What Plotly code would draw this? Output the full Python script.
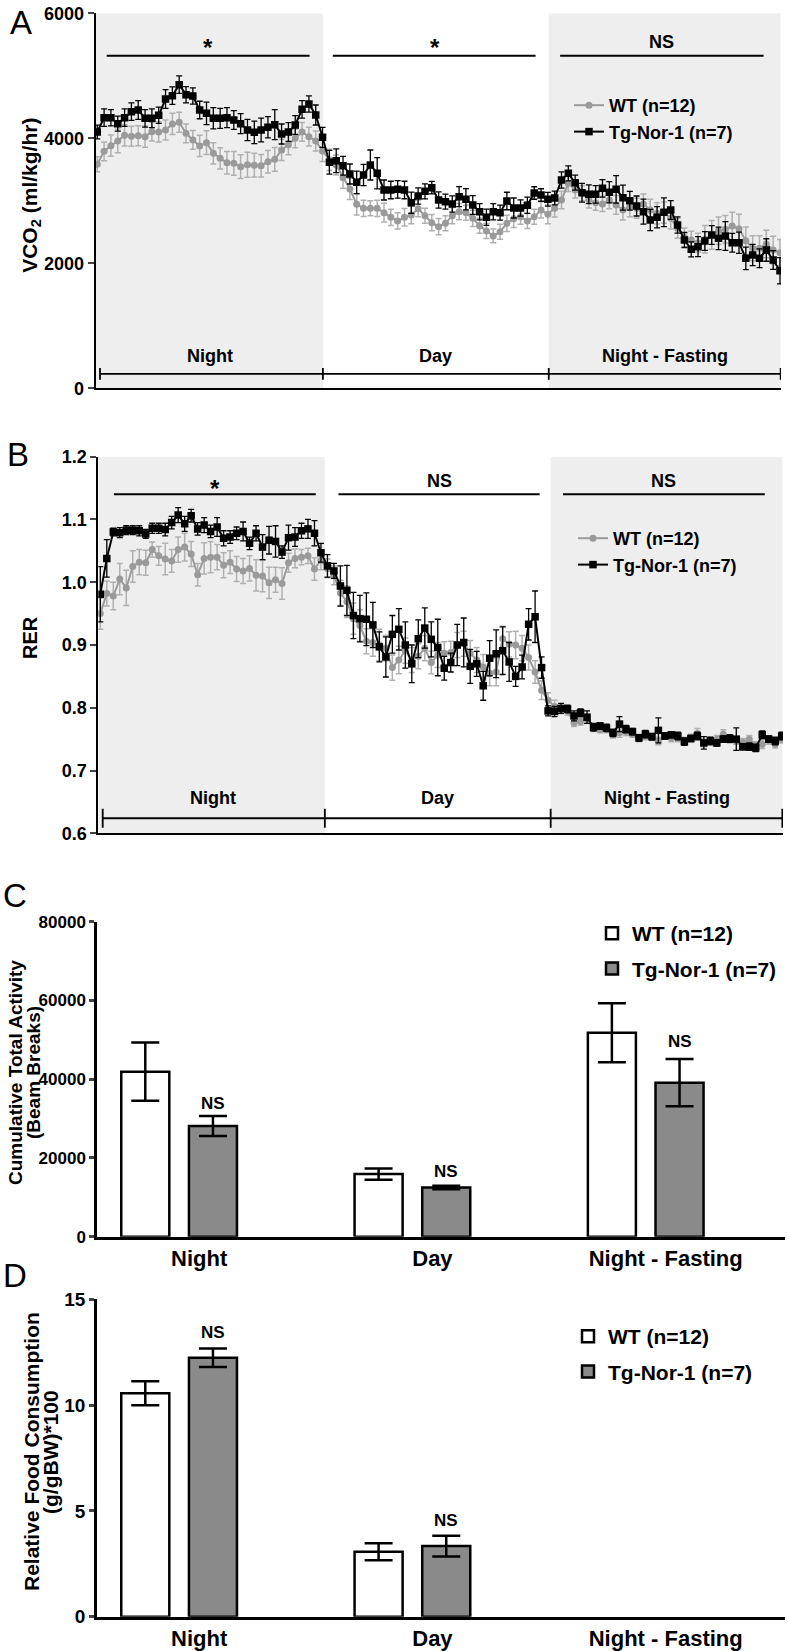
import plotly.graph_objects as go

FONT = "Liberation Sans, Arial, Helvetica, sans-serif"

# ---------------- Panel A : VCO2 (ml/kg/hr) ----------------
vco2_wt = [3584, 3792, 3882, 3957, 4048, 4032, 4040, 4026, 4106, 4100, 4133, 4229, 4256, 4080, 3973,
           3877, 3930, 3760, 3680, 3610, 3600, 3546, 3578, 3570, 3562, 3626, 3664, 3813, 3898, 4000,
           4101, 4026, 3957, 3797, 3653,
           3573, 3370, 3189, 2944, 2880, 2880, 2880, 2810, 2736, 2677, 2736, 2773, 2874, 2762, 2650,
           2586, 2640, 2762, 2826, 2810, 2720, 2602, 2517, 2437, 2506, 2640, 2714, 2746, 2677, 2746,
           2853, 2784, 2880,
           3013, 3280, 3173, 3120, 3013, 2970, 2949, 3013, 2933, 2853, 2896, 2880, 2949, 2853, 2800,
           2810, 2720, 2560, 2416, 2373, 2330, 2384, 2453, 2522, 2544, 2597, 2554, 2362, 2240, 2240,
           2309, 2213, 2170]
vco2_wt_err = [120, 150, 170, 190, 170, 160, 160, 170, 150, 160, 160, 170, 160, 150, 150, 170, 190, 170,
               170, 180, 190, 190, 200, 190, 180, 180, 190, 170, 160, 150, 150, 150, 160, 170, 170,
               160, 170, 170, 170, 130, 120, 130, 150, 130, 130, 140, 140, 130, 120, 130, 130, 120,
               130, 130, 120, 130, 120, 120, 110, 120, 130, 140, 120, 120, 120, 130, 150, 140,
               140, 130, 130, 120, 130, 120, 120, 140, 150, 160, 150, 160, 160, 170, 170, 170, 170,
               160, 150, 140, 150, 220, 230, 220, 220, 220, 230, 220, 200, 200, 220, 220, 210]
vco2_tg = [4101, 4330, 4330, 4234, 4330, 4426, 4453, 4320, 4320, 4368, 4629, 4682, 4858, 4698, 4677,
           4453, 4400, 4320, 4320, 4330, 4293, 4234, 4133, 4096, 4133, 4176, 4218, 4069, 4101, 4213,
           4464, 4549, 4373, 4016, 3616,
           3642, 3562, 3429, 3296, 3413, 3573, 3440, 3173, 3173, 3184, 3173, 2970, 3077, 3152, 3210,
           3013, 2986, 2949, 3066, 3024, 2933, 2826, 2736, 2826, 2810, 2997, 2885, 2885, 2928, 3125,
           3093, 3024, 3045,
           3333, 3440, 3290, 3130, 3104, 3104, 3200, 3136, 3184, 3050, 3002, 2917, 2826, 2693, 2736,
           2816, 2853, 2613, 2373, 2224, 2266, 2357, 2453, 2400, 2437, 2330, 2330, 2080, 2133, 2080,
           2213, 2053, 1882]
vco2_tg_err = [110, 140, 130, 120, 140, 140, 150, 140, 150, 130, 150, 140, 140, 130, 130, 140, 180, 170,
               160, 160, 150, 160, 170, 180, 190, 170, 240, 160, 150, 150, 140, 130, 160, 160, 190,
               190, 150, 160, 180, 170, 240, 250, 160, 140, 140, 140, 170, 130, 120, 100, 130, 120,
               130, 160, 170, 150, 130, 130, 130, 120, 140, 160, 130, 130, 100, 100, 110, 110,
               130, 120, 120, 150, 150, 140, 140, 170, 220, 200, 150, 160, 200, 170, 170, 230, 150,
               130, 120, 120, 160, 150, 150, 180, 230, 150, 170, 180, 170, 150, 180, 150, 210]

# ---------------- Panel B : RER ----------------
rer_wt = [0.950, 0.982, 0.978, 1.005, 0.991, 1.025, 1.032, 1.031, 1.052, 1.042, 1.037, 1.034, 1.052,
          1.056, 1.045, 1.012, 1.038, 1.040, 1.040, 1.027, 1.032, 1.021, 1.018, 1.022, 1.011, 1.010,
          0.999, 1.004, 0.998, 1.031, 1.038, 1.040, 1.042, 1.021, 1.035, 1.022,
          1.011, 0.983, 0.969, 0.942, 0.931, 0.906, 0.904, 0.900, 0.895, 0.864, 0.876, 0.891, 0.876,
          0.882, 0.895, 0.872, 0.884, 0.887, 0.888, 0.900, 0.902, 0.887, 0.876, 0.865, 0.855, 0.857,
          0.910, 0.901, 0.900, 0.895, 0.880, 0.857, 0.828, 0.812, 0.802,
          0.797, 0.795, 0.776, 0.778, 0.782, 0.768, 0.765, 0.766, 0.758, 0.760, 0.762, 0.758, 0.752,
          0.755, 0.753, 0.747, 0.755, 0.752, 0.752, 0.748, 0.752, 0.759, 0.744, 0.748, 0.750, 0.758,
          0.750, 0.747, 0.745, 0.750, 0.740, 0.742, 0.748, 0.742, 0.750]
rer_wt_err = [0.025, 0.020, 0.022, 0.025, 0.028, 0.025, 0.020, 0.020, 0.012, 0.015, 0.025, 0.018,
              0.020, 0.022, 0.020, 0.018, 0.025, 0.025, 0.020, 0.020, 0.018, 0.020, 0.020, 0.020,
              0.025, 0.025, 0.025, 0.020, 0.025, 0.015, 0.015, 0.012, 0.012, 0.018, 0.015, 0.015,
              0.015, 0.020, 0.025, 0.025, 0.025, 0.020, 0.022, 0.025, 0.020, 0.020, 0.022, 0.020,
              0.020, 0.020, 0.020, 0.018, 0.020, 0.018, 0.018, 0.020, 0.020, 0.020, 0.020, 0.020,
              0.020, 0.022, 0.020, 0.020, 0.022, 0.020, 0.020, 0.018, 0.015, 0.012, 0.010,
              0.006, 0.007, 0.006, 0.006, 0.007, 0.006, 0.005, 0.006, 0.006, 0.007, 0.006, 0.005,
              0.006, 0.006, 0.005, 0.006, 0.005, 0.006, 0.006, 0.005, 0.006, 0.008, 0.006, 0.005,
              0.006, 0.007, 0.006, 0.005, 0.006, 0.006, 0.006, 0.007, 0.006, 0.006, 0.006]
rer_tg = [0.981, 1.038, 1.080, 1.079, 1.083, 1.083, 1.082, 1.077, 1.086, 1.086, 1.084, 1.095, 1.107,
          1.093, 1.106, 1.085, 1.091, 1.081, 1.088, 1.070, 1.072, 1.078, 1.081, 1.062, 1.078, 1.056,
          1.067, 1.065, 1.048, 1.071, 1.072, 1.082, 1.085, 1.078, 1.047, 1.026,
          1.018, 0.994, 0.987, 0.947, 0.942, 0.941, 0.932, 0.897, 0.881, 0.917, 0.925, 0.900, 0.870,
          0.910, 0.927, 0.909, 0.896, 0.863, 0.872, 0.900, 0.904, 0.866, 0.870, 0.835, 0.879, 0.886,
          0.891, 0.873, 0.850, 0.865, 0.933, 0.945, 0.864, 0.795, 0.794,
          0.799, 0.798, 0.787, 0.792, 0.785, 0.769, 0.771, 0.768, 0.760, 0.774, 0.766, 0.762, 0.752,
          0.758, 0.754, 0.764, 0.755, 0.757, 0.755, 0.746, 0.751, 0.755, 0.744, 0.747, 0.744, 0.750,
          0.751, 0.750, 0.738, 0.738, 0.736, 0.757, 0.750, 0.747, 0.755]
rer_tg_err = [0.044, 0.030, 0.006, 0.008, 0.007, 0.007, 0.008, 0.007, 0.008, 0.008, 0.010, 0.010,
              0.012, 0.012, 0.010, 0.010, 0.012, 0.010, 0.015, 0.012, 0.010, 0.010, 0.015, 0.010,
              0.012, 0.020, 0.022, 0.025, 0.010, 0.020, 0.015, 0.012, 0.015, 0.020, 0.015, 0.018,
              0.012, 0.032, 0.040, 0.037, 0.037, 0.042, 0.036, 0.024, 0.032, 0.030, 0.033, 0.037,
              0.030, 0.030, 0.032, 0.028, 0.045, 0.019, 0.015, 0.033, 0.039, 0.027, 0.020, 0.023,
              0.028, 0.038, 0.038, 0.031, 0.016, 0.019, 0.025, 0.041, 0.017, 0.008, 0.008,
              0.008, 0.006, 0.008, 0.006, 0.010, 0.006, 0.005, 0.006, 0.006, 0.012, 0.006, 0.005,
              0.005, 0.006, 0.005, 0.020, 0.005, 0.005, 0.006, 0.006, 0.005, 0.006, 0.010, 0.006,
              0.005, 0.005, 0.006, 0.018, 0.005, 0.006, 0.006, 0.006, 0.005, 0.006, 0.006]

# ---------------- Panels C and D : bars ----------------
periods = ["Night", "Day", "Night - Fasting"]
activity_wt = [41900, 15900, 51800]
activity_wt_err = [7400, 1450, 7470]
activity_tg = [28100, 12500, 39100]
activity_tg_err = [2550, 450, 6000]

food_wt = [10.56, 3.07, None]
food_wt_err = [0.57, 0.40, 0]
food_tg = [12.24, 3.34, None]
food_tg_err = [0.44, 0.49, 0]

WT_NAME = "WT (n=12)"
TG_NAME = "Tg-Nor-1 (n=7)"
GRAY_LINE = "#9a9a9a"
GRAY_ERR = "#b0b0b0"
BAR_GRAY = "#8a8a8a"
SHADE = "#eeeeee"

W, H = 788, 1651


def px(xp):
    return xp / W


def py(yp):
    return 1 - yp / H


fig = go.Figure()

# ---- Panel A traces
idxA = list(range(len(vco2_wt)))
fig.add_trace(go.Scatter(x=idxA, y=vco2_wt, mode="lines+markers", name=WT_NAME,
                         line=dict(color=GRAY_LINE, width=2),
                         marker=dict(symbol="circle", size=7, color=GRAY_LINE),
                         error_y=dict(type="data", array=vco2_wt_err, color=GRAY_ERR, thickness=1.5, width=3),
                         xaxis="x", yaxis="y", legend="legend"))
fig.add_trace(go.Scatter(x=idxA, y=vco2_tg, mode="lines+markers", name=TG_NAME,
                         line=dict(color="black", width=2),
                         marker=dict(symbol="square", size=7.5, color="black"),
                         error_y=dict(type="data", array=vco2_tg_err, color="black", thickness=1.3, width=3),
                         xaxis="x", yaxis="y", legend="legend"))

# ---- Panel B traces
idxB = list(range(len(rer_wt)))
fig.add_trace(go.Scatter(x=idxB, y=rer_wt, mode="lines+markers", name=WT_NAME,
                         line=dict(color=GRAY_LINE, width=2),
                         marker=dict(symbol="circle", size=7, color=GRAY_LINE),
                         error_y=dict(type="data", array=rer_wt_err, color=GRAY_ERR, thickness=1.5, width=3),
                         xaxis="x2", yaxis="y2", legend="legend2"))
fig.add_trace(go.Scatter(x=idxB, y=rer_tg, mode="lines+markers", name=TG_NAME,
                         line=dict(color="black", width=2),
                         marker=dict(symbol="square", size=7.5, color="black"),
                         error_y=dict(type="data", array=rer_tg_err, color="black", thickness=1.3, width=3),
                         xaxis="x2", yaxis="y2", legend="legend2"))

# ---- Panel C bars
bar_line = dict(color="black", width=2.5)
fig.add_trace(go.Bar(x=periods, y=activity_wt, name=WT_NAME, marker=dict(color="white", line=bar_line),
                     error_y=dict(type="data", array=activity_wt_err, color="black", thickness=2.5, width=14),
                     xaxis="x3", yaxis="y3", legend="legend3", legendgroup="c1"))
fig.add_trace(go.Bar(x=periods, y=activity_tg, name=TG_NAME, marker=dict(color=BAR_GRAY, line=bar_line),
                     error_y=dict(type="data", array=activity_tg_err, color="black", thickness=2.5, width=14),
                     xaxis="x3", yaxis="y3", legend="legend3", legendgroup="c2"))

# ---- Panel D bars
fig.add_trace(go.Bar(x=periods, y=food_wt, name=WT_NAME, marker=dict(color="white", line=bar_line),
                     error_y=dict(type="data", array=food_wt_err, color="black", thickness=2.5, width=14),
                     xaxis="x4", yaxis="y4", legend="legend4", legendgroup="d1"))
fig.add_trace(go.Bar(x=periods, y=food_tg, name=TG_NAME, marker=dict(color=BAR_GRAY, line=bar_line),
                     error_y=dict(type="data", array=food_tg_err, color="black", thickness=2.5, width=14),
                     xaxis="x4", yaxis="y4", legend="legend4", legendgroup="d2"))

# ---------------- axes ----------------
tickfont = dict(family=FONT, size=18, color="black", weight="bold")
c_tickfont = dict(family=FONT, size=17, color="black", weight="bold")
d_tickfont = dict(family=FONT, size=19, color="black", weight="bold")
cat_font = dict(family=FONT, size=22, color="black", weight="bold")
axis_common = dict(showgrid=False, zeroline=False, showline=True, linecolor="black", linewidth=2)

fig.update_layout(
    width=W, height=H, margin=dict(l=0, r=0, t=0, b=0, autoexpand=False),
    paper_bgcolor="white", plot_bgcolor="rgba(0,0,0,0)",
    font=dict(family=FONT, color="black"),
    showlegend=True,
    barmode="group", bargap=0.42, bargroupgap=0.29,
    xaxis=dict(domain=[px(95.7), px(781)], range=[-0.23, 100.15], anchor="y",
               showticklabels=False, ticks="", **axis_common),
    yaxis=dict(domain=[py(388.3), py(13.3)], range=[0, 6000], anchor="x",
               tickvals=[0, 2000, 4000, 6000], ticks="outside", ticklen=6, tickwidth=2,
               tickfont=tickfont, **axis_common),
    xaxis2=dict(domain=[px(98.3), px(783)], range=[-0.31, 105.2], anchor="y2",
                showticklabels=False, ticks="", **axis_common),
    yaxis2=dict(domain=[py(833.3), py(456.7)], range=[0.6, 1.2], anchor="x2",
                tickvals=[0.6, 0.7, 0.8, 0.9, 1.0, 1.1, 1.2], ticktext=["0.6", "0.7", "0.8", "0.9", "1.0", "1.1", "1.2"],
                ticks="outside", ticklen=6, tickwidth=2, tickfont=tickfont, **axis_common),
    xaxis3=dict(domain=[px(97), px(785)], range=[-0.352, 2.597], anchor="y3", type="category",
                ticks="", tickfont=cat_font, ticklabelshift=20, showgrid=False, zeroline=False,
                showline=True, linecolor="black", linewidth=2.5),
    yaxis3=dict(domain=[py(1236.7), py(921.7)], range=[0, 80000], anchor="x3",
                tickvals=[0, 20000, 40000, 60000, 80000], tickformat="d", ticks="outside", ticklen=5,
                tickwidth=2.5, tickfont=c_tickfont, showgrid=False, zeroline=False, showline=True,
                linecolor="black", linewidth=2.5),
    xaxis4=dict(domain=[px(97), px(785)], range=[-0.352, 2.597], anchor="y4", type="category",
                ticks="", tickfont=cat_font, ticklabelshift=20, showgrid=False, zeroline=False,
                showline=True, linecolor="black", linewidth=2.5),
    yaxis4=dict(domain=[py(1616.7), py(1299.3)], range=[0, 15], anchor="x4",
                tickvals=[0, 5, 10, 15], ticks="outside", ticklen=5, tickwidth=2.5,
                tickfont=d_tickfont, showgrid=False, zeroline=False, showline=True, linecolor="black",
                linewidth=2.5),
)

legend_font = dict(family=FONT, size=18, color="black", weight="bold")
bar_legend_font = dict(family=FONT, size=21, color="black", weight="bold")
fig.update_layout(
    legend=dict(x=px(569), y=py(87), xanchor="left", yanchor="top", bgcolor="rgba(0,0,0,0)",
                font=legend_font, itemwidth=30, tracegroupgap=0),
    legend2=dict(x=px(573), y=py(520), xanchor="left", yanchor="top", bgcolor="rgba(0,0,0,0)",
                 font=legend_font, itemwidth=30, tracegroupgap=0),
    legend3=dict(x=px(592), y=py(913), xanchor="left", yanchor="top", bgcolor="rgba(0,0,0,0)",
                 font=bar_legend_font, itemwidth=30, traceorder="grouped", tracegroupgap=5),
    legend4=dict(x=px(568), y=py(1316), xanchor="left", yanchor="top", bgcolor="rgba(0,0,0,0)",
                 font=bar_legend_font, itemwidth=30, traceorder="grouped", tracegroupgap=5),
)

# ---------------- shapes (shading, period bars, significance lines) ----------------
shapes = []
# Panel A
for x0, x1 in [(-0.23, 33.05), (66.13, 100.1)]:
    shapes.append(dict(type="rect", xref="x", yref="y", x0=x0, x1=x1, y0=0, y1=6000,
                       fillcolor=SHADE, line=dict(width=0), layer="below"))
a_bounds = [0.4, 33.05, 66.13, 100.1]
shapes.append(dict(type="line", xref="x", yref="y", x0=a_bounds[0], x1=a_bounds[-1], y0=230, y1=230,
                   line=dict(color="black", width=1.8)))
for b in a_bounds:
    shapes.append(dict(type="line", xref="x", yref="y", x0=b, x1=b, y0=135, y1=325,
                       line=dict(color="black", width=1.8)))
for x0, x1 in [(1.38, 31.1), (34.5, 64.2), (67.8, 97.6)]:
    shapes.append(dict(type="line", xref="x", yref="y", x0=x0, x1=x1, y0=5322, y1=5322,
                       line=dict(color="black", width=2)))
# Panel B
for x0, x1 in [(-0.31, 34.6), (69.4, 105.1)]:
    shapes.append(dict(type="rect", xref="x2", yref="y2", x0=x0, x1=x1, y0=0.6, y1=1.2,
                       fillcolor=SHADE, line=dict(width=0), layer="below"))
b_bounds = [0.37, 34.6, 69.4, 105.1]
shapes.append(dict(type="line", xref="x2", yref="y2", x0=b_bounds[0], x1=b_bounds[-1], y0=0.624, y1=0.624,
                   line=dict(color="black", width=1.8)))
for b in b_bounds:
    shapes.append(dict(type="line", xref="x2", yref="y2", x0=b, x1=b, y0=0.609, y1=0.639,
                       line=dict(color="black", width=1.8)))
for x0, x1 in [(2.1, 33.2), (36.7, 67.7), (71.3, 102.4)]:
    shapes.append(dict(type="line", xref="x2", yref="y2", x0=x0, x1=x1, y0=1.140, y1=1.140,
                       line=dict(color="black", width=2)))
fig.update_layout(shapes=shapes)

# ---------------- annotations ----------------
ann = []


def txt(text, x, y, xref, yref, size=18, bold=True, **kw):
    ann.append(dict(text=text, x=x, y=y, xref=xref, yref=yref, showarrow=False,
                    xanchor="center", yanchor="middle",
                    font=dict(family=FONT, size=size, color="black", weight="bold" if bold else "normal"), **kw))


# panel letters
txt("A", px(21), py(23), "paper", "paper", size=33, bold=False)
txt("B", px(18), py(454), "paper", "paper", size=33, bold=False)
txt("C", px(15), py(895), "paper", "paper", size=33, bold=False)
txt("D", px(15), py(1275), "paper", "paper", size=33, bold=False)

# axis titles
txt("VCO<sub>2</sub> (ml/kg/hr)", px(30.8), py(195), "paper", "paper", size=21, textangle=-90)
txt("RER", px(30), py(638), "paper", "paper", size=20, textangle=-90)
txt("Cumulative Total Activity", px(15), py(1073), "paper", "paper", size=19, textangle=-90)
txt("(Beam Breaks)", px(33), py(1073), "paper", "paper", size=19, textangle=-90)
txt("Relative Food Consumption", px(31), py(1452), "paper", "paper", size=21, textangle=-90)
txt("(g/gBW)*100", px(50), py(1452), "paper", "paper", size=21, textangle=-90)

# Panel A texts
txt("*", 16.2, 5460, "x", "y", size=24)
txt("*", 49.4, 5460, "x", "y", size=24)
txt("NS", 82.7, 5540, "x", "y", size=18)
txt("Night", 16.5, 510, "x", "y")
txt("Day", 49.5, 510, "x", "y")
txt("Night - Fasting", 83.2, 510, "x", "y")

# Panel B texts
txt("*", 17.65, 1.150, "x2", "y2", size=24)
txt("NS", 52.2, 1.161, "x2", "y2", size=18)
txt("NS", 86.85, 1.161, "x2", "y2", size=18)
txt("Night", 17.4, 0.656, "x2", "y2")
txt("Day", 51.9, 0.656, "x2", "y2")
txt("Night - Fasting", 87.4, 0.656, "x2", "y2")

# NS above Tg bars
for cat, yv in zip(periods, [33880, 16510, 49520]):
    txt("NS", cat, yv, "x3", "y3", size=17, xshift=34)
for cat, yv in zip(periods[:2], [13.42, 4.57]):
    txt("NS", cat, yv, "x4", "y4", size=17, xshift=34)

fig.update_layout(annotations=ann)

# the page body has a default 8px margin; remove it so the figure fills the window exactly
fig.write_html("out.html", config={"displayModeBar": False},
               post_script="document.body.style.margin='0';")
